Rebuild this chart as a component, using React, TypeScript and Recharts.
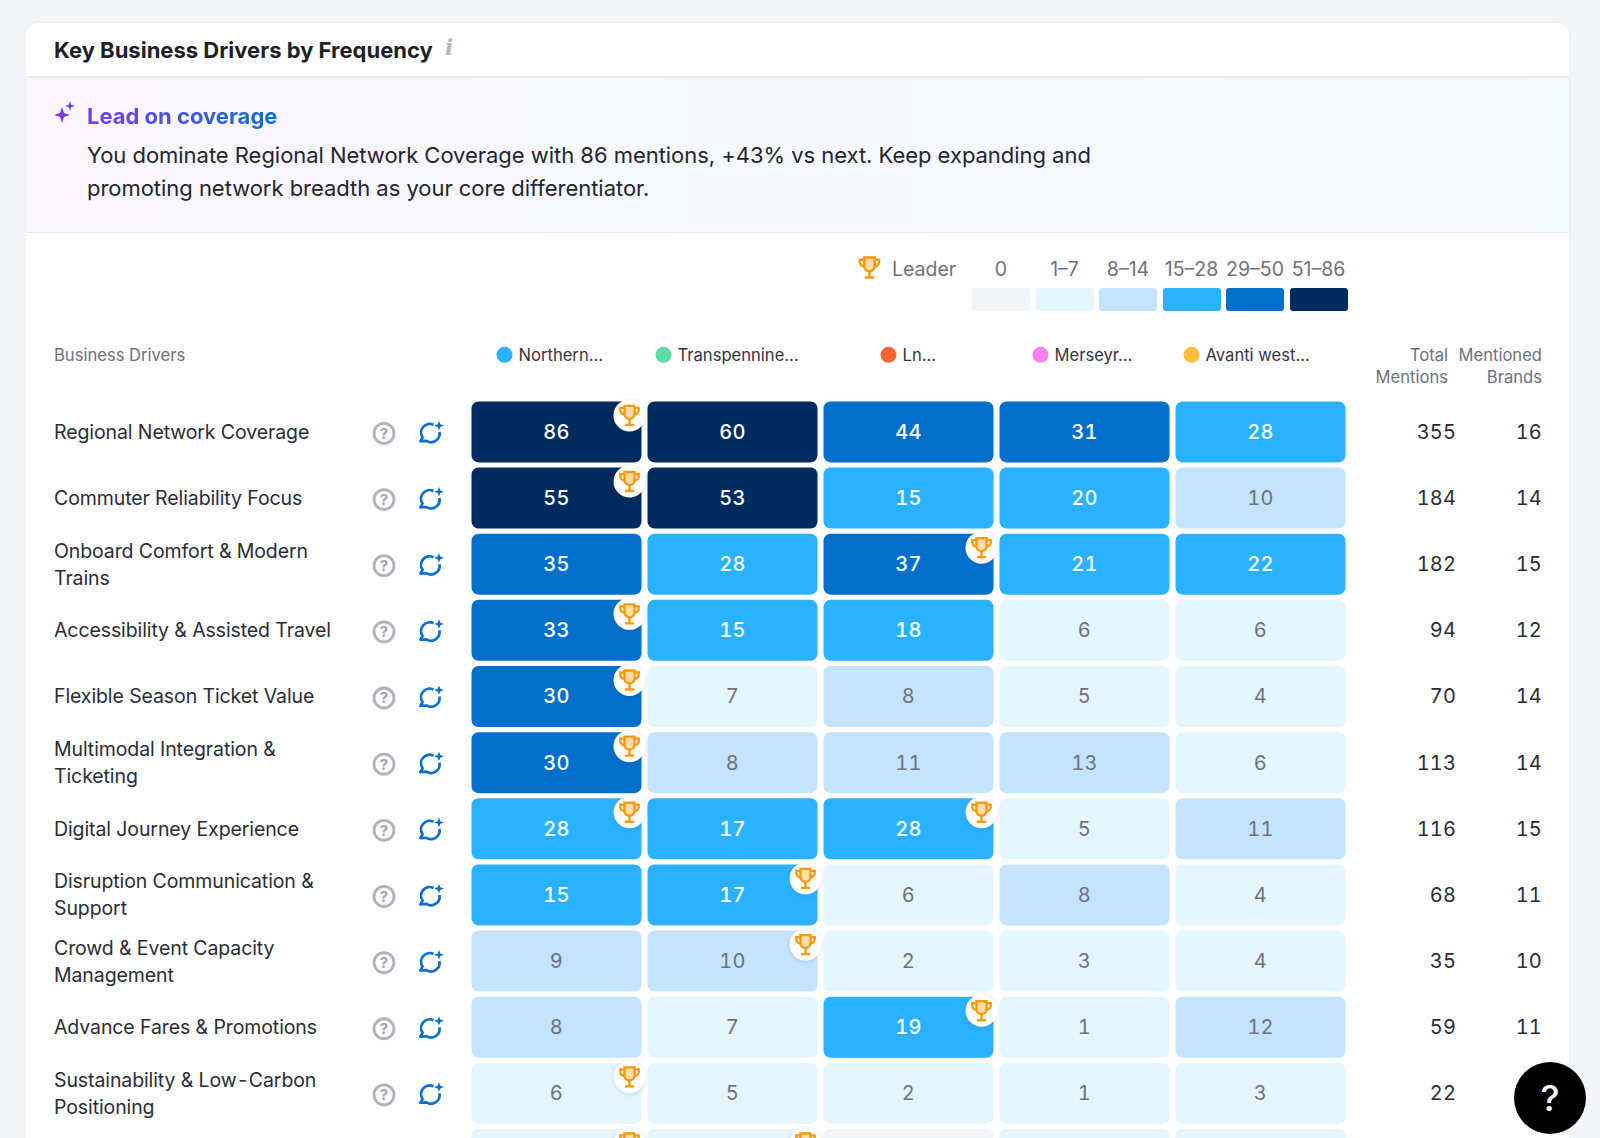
import { Scatter, ScatterChart, XAxis, YAxis } from "recharts";

const FONT = "Inter, sans-serif";

const brands = ["Northern...", "Transpennine...", "Ln...", "Merseyr...", "Avanti west..."];
const brandColors = ["#2AB2FF", "#5FDDA8", "#FF6633", "#F97FEE", "#FFBF3C"];
// dot position of each header relative to its column centre
const brandDotOffsets = [-52, -69, -20, -44, -69];

// the 12th row is cut off by the page edge: only the top of its cells shows, so it has no label or totals
const drivers = [
  "Regional Network Coverage",
  "Commuter Reliability Focus",
  "Onboard Comfort & Modern\nTrains",
  "Accessibility & Assisted Travel",
  "Flexible Season Ticket Value",
  "Multimodal Integration &\nTicketing",
  "Digital Journey Experience",
  "Disruption Communication &\nSupport",
  "Crowd & Event Capacity\nManagement",
  "Advance Fares & Promotions",
  "Sustainability & Low\u200A-\u200ACarbon\nPositioning",
  "",
];

// last values only set the colours of the cut off row, picked from the bins those colours stand for
const northern = [86, 55, 35, 33, 30, 30, 28, 15, 9, 8, 6, 4];
const transpennine = [60, 53, 28, 15, 7, 8, 17, 17, 10, 7, 5, 4];
const lner = [44, 15, 37, 18, 8, 11, 28, 6, 2, 19, 2, 0];
const merseyrail = [31, 20, 21, 6, 5, 13, 5, 8, 3, 1, 1, 2];
const avanti = [28, 10, 22, 6, 4, 6, 11, 4, 4, 12, 3, 2];
const seriesValues = [northern, transpennine, lner, merseyrail, avanti];

const totalMentions = [355, 184, 182, 94, 70, 113, 116, 68, 35, 59, 22];
// row 11 sits behind the help button, estimated
const mentionedBrands = [16, 14, 15, 12, 14, 14, 15, 11, 10, 11, 9];

const binLabels = ["0", "1\u20137", "8\u201314", "15\u201328", "29\u201350", "51\u201386"];
const binMax = [0, 7, 14, 28, 50, 86];
const binColors = ["#F3F4F8", "#E6F6FF", "#C4E4FE", "#2AB2FF", "#026FCB", "#002B5F"];

const colorFor = (value: number) => binColors[binMax.findIndex((max) => value <= max)];

const cells = drivers.flatMap((driver, row) =>
  brands.map((brand, col) => ({ driver, brand, value: seriesValues[col][row], row, col })),
);
const leaders = cells.filter(
  (cell) => cell.value === Math.max(...seriesValues.map((values) => values[cell.row])),
);

const CELL_W = 170;
const CELL_H = 61;
const TNUM = { fontVariantNumeric: "tabular-nums" };

const TrophyPaths = () => (
  <>
    <path d="M7 2.5h10v8a5 5 0 0 1-10 0z" fill="#F59A0B" fillOpacity={0.35} />
    <path d="M7 4.5H2.8v2.2a4.2 4.2 0 0 0 4.2 4.2M17 4.5h4.2v2.2a4.2 4.2 0 0 1-4.2 4.2M12 15.5v5M7.5 21.5h9" />
  </>
);

const HeatCell = ({ cx, cy, payload }: any) => {
  const light = payload.value <= 14;
  return (
    <g>
      <rect x={cx - CELL_W / 2} y={cy - CELL_H / 2} width={CELL_W} height={CELL_H} rx={7} fill={colorFor(payload.value)} />
      {payload.driver && (
        <text
          x={cx}
          y={cy}
          dy={7}
          textAnchor="middle"
          fontFamily={FONT}
          fontSize={20}
          fontWeight={light ? 400 : 500}
          letterSpacing={0.3}
          fill={light ? "#6F7080" : "#FFFFFF"}
          style={TNUM}
        >
          {payload.value}
        </text>
      )}
    </g>
  );
};

const LeaderBadge = ({ cx, cy }: any) => {
  const bx = cx + CELL_W / 2 - 12;
  const by = cy - CELL_H / 2 + 14;
  return (
    <g>
      <circle cx={bx} cy={by} r={16} fill="#FFFFFF" style={{ filter: "drop-shadow(0 1px 2px rgba(30,40,70,0.16))" }} />
      <svg x={bx - 12} y={by - 12} width={24} height={24} viewBox="0 0 24 24" fill="none" stroke="#F59A0B" strokeWidth={2.4}>
        <TrophyPaths />
      </svg>
    </g>
  );
};

const BrandTick = ({ x, y, index, payload }: any) => {
  const dotX = x + brandDotOffsets[index];
  const headerY = y - 36;
  return (
    <g>
      <circle cx={dotX} cy={headerY} r={8} fill={brandColors[index]} />
      <text x={dotX + 14} y={headerY} dy={6} fontFamily={FONT} fontSize={16.6} fill="#34353F">
        {payload.value}
      </text>
    </g>
  );
};

// one row of the left labels, its two icons and the two total columns
const RowTick = ({ y, index, payload }: any) => {
  if (!payload.value) return null;
  const lines = String(payload.value).split("\n");
  return (
    <g fontFamily={FONT}>
      {lines.map((line, i) => (
        <text
          key={line}
          x={54}
          y={y + (i - (lines.length - 1) / 2) * 27}
          dy={7}
          fontSize={19.5}
          letterSpacing={-0.1}
          fill="#2B2C36"
        >
          {line}
        </text>
      ))}
      <circle cx={384} cy={y + 1.5} r={10} fill="none" stroke="#B0B1BD" strokeWidth={2.8} />
      <text x={384} y={y + 1.5} dy={5.5} textAnchor="middle" fontSize={15} fontWeight={700} fill="#A0A1AF">
        ?
      </text>
      <g transform={`translate(430 ${y + 1})`} fill="none" stroke="#0B6FD0" strokeWidth={2.7} strokeLinejoin="round">
        <path d="M3.5 -8 A 8.6 8.6 0 0 0 -7.4 4.6 L -9.6 8.4 L -3.6 8 A 8.6 8.6 0 0 0 9.4 -1" />
        <path d="M9 -12 L10.4 -8.6 L14 -7.4 L10.4 -6 L9 -2.6 L7.6 -6 L4 -7.4 L7.6 -8.6 Z" fill="#0B6FD0" stroke="none" />
      </g>
      <text x={1456} y={y} dy={7} textAnchor="end" fontSize={20} letterSpacing={0.1} fill="#2B2C36" style={TNUM}>
        {totalMentions[index]}
      </text>
      <text x={1542} y={y} dy={7} textAnchor="end" fontSize={20} letterSpacing={0.2} fill="#2B2C36" style={TNUM}>
        {mentionedBrands[index]}
      </text>
    </g>
  );
};

const abs = (left: number, top: number, extra: object = {}) =>
  ({ position: "absolute", left, top, whiteSpace: "nowrap", ...extra }) as const;

export default function App() {
  return (
    <div style={{ position: "fixed", left: 0, top: 0, width: 1600, height: 1138, overflow: "hidden", background: "#F4F5F9", fontFamily: FONT }}>
      <div style={abs(26, 23, { width: 1543, height: 1200, background: "#FFFFFF", borderRadius: 12, boxShadow: "0 0 3px rgba(30,40,70,0.08)" })} />
      <div style={abs(26, 76, { width: 1543, height: 2, background: "#E8EAF0" })} />
      <div style={abs(26, 78, { width: 1543, height: 154, background: "linear-gradient(90deg, #F9F6FE, #F5FAFE)", borderBottom: "1px solid #E6E8EE" })} />

      <div style={abs(54, 36, { fontSize: 22, fontWeight: 700, lineHeight: "28px", color: "#1E1F28" })}>
        Key Business Drivers by Frequency
      </div>
      <div style={abs(445, 35, { fontSize: 22, lineHeight: "24px", fontStyle: "italic", fontWeight: 700, color: "#B4B5C4", fontFamily: "DejaVu Serif, serif" })}>i</div>

      <svg style={abs(54, 100)} width={24} height={24} viewBox="0 0 24 24" fill="#7C3AED">
        <path d="M8 7 L10 13 L16 15 L10 17 L8 23 L6 17 L0 15 L6 13 Z" />
        <path d="M16 1 L17.2 4.8 L21 6 L17.2 7.2 L16 11 L14.8 7.2 L11 6 L14.8 4.8 Z" />
      </svg>
      <div
        style={abs(87, 101, {
          fontSize: 22,
          fontWeight: 700,
          lineHeight: "30px",
          background: "linear-gradient(90deg, #7C3AED, #0B6FD0)",
          WebkitBackgroundClip: "text",
          backgroundClip: "text",
          color: "transparent",
        })}
      >
        Lead on coverage
      </div>
      <div style={abs(87, 139, { fontSize: 22, letterSpacing: -0.035, lineHeight: "33px", color: "#24252E" })}>
        You dominate Regional Network Coverage with 86 mentions, +43% vs next. Keep expanding and
        <br />
        promoting network breadth as your core differentiator.
      </div>

      <svg style={abs(857, 255)} width={25} height={25} viewBox="0 0 24 24" fill="none" stroke="#F59A0B" strokeWidth={2.4}>
        <TrophyPaths />
      </svg>
      <div style={abs(892, 257, { fontSize: 19.5, lineHeight: "24px", color: "#6F7080" })}>Leader</div>
      {binLabels.map((label, i) => (
        <div key={label}>
          <div style={abs(972 + i * 63.5, 257, { width: 58, textAlign: "center", fontSize: 19.5, lineHeight: "24px", color: "#6F7080" })}>{label}</div>
          <div style={abs(972 + i * 63.5, 288, { width: 58, height: 23, borderRadius: 3, background: binColors[i] })} />
        </div>
      ))}

      <div style={abs(54, 344, { fontSize: 16.6, lineHeight: "22px", color: "#6F7080" })}>Business Drivers</div>
      <div style={abs(1347, 344, { width: 101, textAlign: "right", fontSize: 16.6, lineHeight: "22px", color: "#6F7080" })}>
        Total
        <br />
        Mentions
      </div>
      <div style={abs(1442, 344, { width: 100, textAlign: "right", fontSize: 16.6, lineHeight: "22px", color: "#6F7080" })}>
        Mentioned
        <br />
        Brands
      </div>

      <div style={abs(0, 0)}>
        <ScatterChart width={1600} height={1200} margin={{ top: 338.8, right: 251.5, bottom: 7.4, left: 0 }}>
          <XAxis
            dataKey="brand"
            type="category"
            orientation="top"
            scale="band"
            allowDuplicatedCategory={false}
            ticks={brands}
            height={60}
            axisLine={false}
            tickLine={false}
            tick={<BrandTick />}
            interval={0}
          />
          <YAxis
            dataKey="driver"
            type="category"
            scale="band"
            allowDuplicatedCategory={false}
            ticks={drivers}
            width={468.5}
            axisLine={false}
            tickLine={false}
            tick={<RowTick />}
            interval={0}
            reversed
          />
          <Scatter data={cells} shape={<HeatCell />} isAnimationActive={false} />
          <Scatter data={leaders} shape={<LeaderBadge />} isAnimationActive={false} />
        </ScatterChart>
      </div>

      <div style={abs(1514, 1062, { width: 72, height: 72, borderRadius: 36, background: "#000000", color: "#FFFFFF", fontSize: 36, fontWeight: 500, lineHeight: "72px", textAlign: "center" })}>?</div>
    </div>
  );
}
